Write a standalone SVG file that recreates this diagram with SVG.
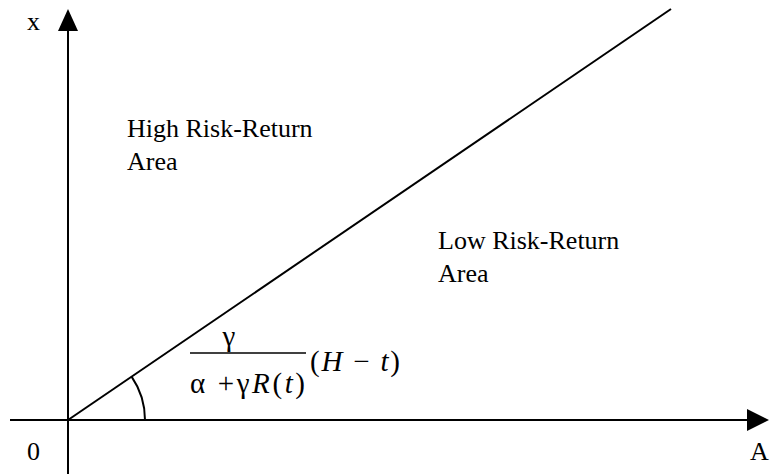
<svg xmlns="http://www.w3.org/2000/svg" width="770" height="474" viewBox="0 0 770 474">
<style>
.ax{stroke:#000;stroke-width:2;fill:none}
.t{font-family:"Liberation Serif","Times New Roman",serif;font-size:26px;fill:#000}
.f{font-family:"Liberation Serif","Times New Roman",serif;font-size:29px;fill:#000}
.i{font-style:italic}
</style>
<rect width="770" height="474" fill="#fff"/>
<g id="connectors">
<line class="ax" x1="68" y1="474" x2="68" y2="30"/>
<path d="M58,31 L78,31 L68,9 Z" fill="#000"/>
<line class="ax" x1="10" y1="420" x2="748" y2="420"/>
<path d="M747,409 L747,431 L769,420 Z" fill="#000"/>
<line class="ax" x1="68" y1="420" x2="671" y2="9"/>
<path class="ax" d="M145,420 A77,77 0 0 0 131.6,376.6" stroke-width="1.5"/>
</g>
<g id="labels">
<text class="t" x="27" y="30">x</text>
<text class="t" x="27" y="460">0</text>
<text class="t" x="750" y="460">A</text>
</g>
<g id="high">
<text class="t" x="127" y="137">High Risk-Return</text>
<text class="t" x="127" y="170">Area</text>
</g>
<g id="low">
<text class="t" x="438" y="249">Low Risk-Return</text>
<text class="t" x="438" y="282">Area</text>
</g>
<g id="formula">
<text class="f" x="229" y="346" text-anchor="middle">γ</text>
<line x1="190" y1="353" x2="306" y2="353" stroke="#000" stroke-width="1.5"/>
<text class="f" x="190" y="393" textLength="115" lengthAdjust="spacing">α +γ<tspan class="i">R</tspan>(<tspan class="i">t</tspan>)</text>
<text class="f" x="310" y="371" font-size="31" textLength="90" lengthAdjust="spacing">(<tspan class="i">H</tspan> − <tspan class="i">t</tspan>)</text>
</g>
</svg>
